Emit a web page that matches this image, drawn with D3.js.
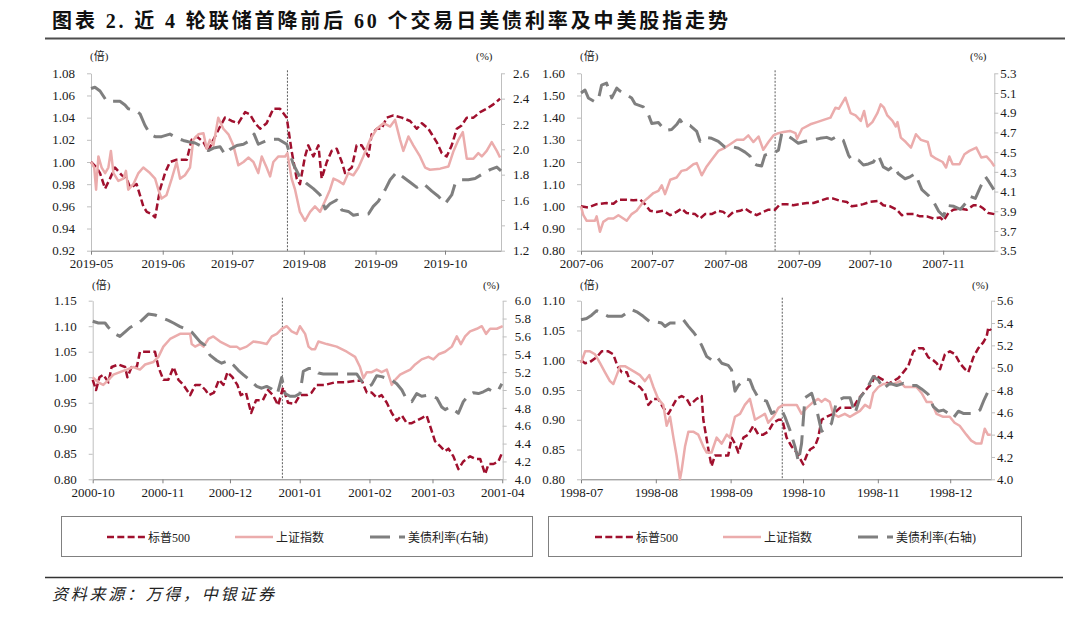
<!DOCTYPE html>
<html><head><meta charset="utf-8">
<script src="https://cdn.jsdelivr.net/npm/d3@7"></script>
<style>body{margin:0;background:#fff}svg{display:block}</style>
</head><body>
<svg id="c" width="1080" height="623"></svg>
<script>
// ---------- DATA (day offset from panel start, value) ----------
const title = "图表 2. 近 4 轮联储首降前后 60 个交易日美债利率及中美股指走势";
const source = "资料来源：万得，中银证券";
const seriesNames = ["标普500", "上证指数", "美债利率(右轴)"];

// Panel 1: 2019
const p1XTicks = ["2019-05","2019-06","2019-07","2019-08","2019-09","2019-10"];
const p1LeftTicks = [0.92,0.94,0.96,0.98,1.00,1.02,1.04,1.06,1.08];
const p1RightTicks = [1.2,1.4,1.6,1.8,2.0,2.2,2.4,2.6];
const p1Spx = [[0,1.000],[2.4,0.995],[3.9,0.990],[6.1,0.976],[8.2,0.985],[10.4,0.995],[13.3,0.988],[15.4,0.985],[16.9,0.977],[19.7,0.980],[21.2,0.970],[22.6,0.960],[24.1,0.955],[26.2,0.953],[27.7,0.950],[29.8,0.975],[32.0,0.990],[34.1,1.000],[37.0,1.002],[41.4,1.002],[43.5,1.020],[45.7,1.023],[48.6,1.018],[50.7,1.010],[52.9,1.020],[55.8,1.032],[57.9,1.040],[60.8,1.037],[63.7,1.035],[66.6,1.045],[68.7,1.043],[70.9,1.035],[73.1,1.030],[75.9,1.035],[78.8,1.048],[81.7,1.048],[84.6,1.040],[86.7,1.010],[88.9,0.985],[90.3,0.980],[92.5,1.005],[93.9,1.015],[96.1,1.005],[98.3,1.015],[99.7,0.985],[101.9,1.000],[104.0,1.010],[106.2,1.012],[108.4,1.000],[109.8,0.990],[112.7,0.995],[114.8,1.015],[117.0,1.015],[119.9,1.005],[121.3,1.025],[123.5,1.030],[125.6,1.030],[127.8,1.040],[130.7,1.042],[134.3,1.040],[137.9,1.037],[140.8,1.030],[143.0,1.035],[145.8,1.030],[147.3,1.025],[149.4,1.018],[151.6,1.008],[153.7,1.005],[155.9,1.015],[158.1,1.030],[160.2,1.033],[162.4,1.040],[165.3,1.040],[168.2,1.045],[171.0,1.048],[173.9,1.052],[176.8,1.057]];
const p1Sh = [[0,1.000],[1.4,0.995],[2.2,0.975],[3.2,1.005],[4.6,0.995],[6.1,0.990],[7.5,0.995],[8.6,1.010],[9.7,0.990],[11.8,0.983],[14.0,0.985],[15.1,0.992],[16.1,0.975],[18.3,0.980],[20.5,0.990],[22.6,0.995],[25.5,0.990],[27.7,0.985],[29.1,0.975],[30.5,0.967],[32.6,0.970],[34.9,0.985],[37.0,1.000],[38.5,0.985],[40.6,0.988],[42.8,0.995],[44.2,1.020],[46.4,1.025],[48.6,1.026],[50.0,1.012],[51.4,1.020],[52.9,1.015],[55.0,1.040],[57.2,1.030],[59.4,1.025],[61.5,1.015],[63.7,0.997],[65.9,1.000],[68.0,1.004],[70.2,1.000],[72.3,0.990],[73.8,1.005],[75.9,0.995],[77.4,0.987],[78.8,1.000],[81.0,1.005],[83.9,1.005],[84.9,1.008],[86.7,0.985],[88.2,0.975],[90.3,0.955],[92.5,0.947],[94.7,0.955],[96.8,0.960],[99.0,0.955],[101.2,0.965],[103.3,0.975],[104.8,0.985],[106.9,0.983],[109.1,0.980],[111.2,0.990],[113.4,0.988],[115.6,0.995],[117.7,1.005],[120.6,1.020],[123.5,1.030],[126.4,1.035],[129.3,1.032],[131.4,1.038],[133.6,1.020],[135.0,1.010],[137.2,1.023],[139.3,1.015],[142.2,1.005],[144.4,0.995],[146.5,0.993],[150.9,0.994],[154.5,0.996],[156.7,1.010],[158.8,1.020],[160.7,1.027],[162.4,1.003],[165.3,1.003],[167.4,1.008],[168.9,1.005],[171.0,1.010],[173.2,1.018],[175.4,1.010],[176.8,1.004]];
const p1Ust = [[0,2.48],[1.7,2.49],[3.9,2.46],[6.8,2.38],[9.7,2.38],[12.5,2.38],[14.7,2.35],[16.1,2.32],[19.0,2.31],[21.2,2.28],[23.3,2.19],[25.5,2.12],[27.7,2.10],[30.5,2.10],[34.1,2.12],[37.0,2.09],[39.9,2.07],[42.1,2.06],[45.0,2.05],[47.1,2.03],[50.7,1.99],[52.9,2.01],[55.8,2.02],[57.9,1.96],[60.1,2.00],[63.0,2.03],[65.9,2.04],[68.7,2.07],[70.5,2.12],[72.3,2.04],[75.9,2.07],[78.8,2.08],[81.0,2.08],[84.6,2.04],[87.5,1.88],[90.3,1.78],[93.2,1.73],[96.1,1.69],[99.0,1.64],[101.2,1.53],[103.3,1.57],[106.2,1.60],[108.4,1.52],[111.2,1.51],[113.4,1.48],[116.3,1.49],[119.9,1.49],[122.0,1.55],[124.2,1.59],[127.1,1.68],[129.3,1.76],[132.1,1.82],[135.0,1.78],[137.9,1.74],[140.8,1.70],[143.7,1.73],[147.3,1.67],[150.1,1.63],[153.0,1.57],[155.9,1.64],[157.4,1.73],[160.2,1.76],[163.1,1.76],[166.0,1.77],[169.6,1.81],[172.5,1.84],[175.4,1.86],[177.2,1.83]];

// Panel 2: 2007
const p2XTicks = ["2007-06","2007-07","2007-08","2007-09","2007-10","2007-11"];
const p2LeftTicks = [0.80,0.90,1.00,1.10,1.20,1.30,1.40,1.50,1.60];
const p2RightTicks = [3.5,3.7,3.9,4.1,4.3,4.5,4.7,4.9,5.1,5.3];
const p2Spx = [[0,1.000],[3.1,0.995],[6.6,1.010],[10.8,1.015],[13.7,1.012],[15.8,1.030],[19.3,1.030],[22.1,1.028],[25.0,1.030],[27.0,1.010],[29.2,0.980],[32.0,0.975],[34.8,0.980],[37.7,0.960],[40.4,0.975],[42.5,0.990],[44.6,0.970],[48.2,0.965],[50.3,0.945],[52.4,0.965],[55.2,0.965],[58.0,0.980],[60.1,0.975],[62.3,0.955],[64.4,0.975],[67.2,0.980],[69.3,0.990],[71.4,0.975],[74.2,0.960],[77.0,0.975],[79.2,0.985],[82.0,0.985],[84.1,1.010],[86.9,1.010],[89.7,1.005],[92.5,1.010],[95.4,1.015],[98.2,1.015],[101.0,1.025],[103.8,1.035],[106.6,1.035],[109.4,1.025],[112.3,1.020],[114.4,1.000],[117.2,1.005],[119.3,1.010],[122.1,1.020],[125.6,1.025],[127.7,1.005],[130.6,1.000],[133.4,0.985],[135.5,0.960],[137.6,0.965],[140.5,0.965],[143.2,0.955],[146.1,0.955],[148.9,0.945],[151.7,0.950],[153.1,0.935],[155.2,0.970],[157.3,0.985],[160.1,0.990],[163.0,0.985],[165.8,1.005],[167.9,1.005],[170.0,0.990],[172.1,0.970],[174.6,0.965]];
const p2Sh = [[0,1.000],[1.0,0.960],[2.4,0.935],[5.9,0.935],[6.6,0.955],[8.0,0.885],[9.4,0.930],[11.5,0.945],[13.7,0.945],[15.8,0.960],[17.9,0.945],[19.3,0.935],[21.4,0.965],[23.5,0.980],[26.3,1.020],[28.5,1.040],[30.6,1.060],[32.7,1.070],[34.1,1.095],[35.5,1.055],[37.7,1.120],[40.4,1.130],[42.5,1.160],[44.6,1.165],[47.5,1.190],[48.9,1.195],[51.0,1.140],[53.1,1.180],[55.2,1.210],[58.0,1.250],[60.1,1.260],[63.0,1.280],[65.8,1.300],[68.6,1.300],[70.7,1.320],[72.8,1.290],[75.0,1.315],[77.0,1.255],[79.2,1.290],[81.3,1.320],[83.4,1.330],[85.5,1.335],[88.3,1.340],[90.6,1.330],[91.3,1.305],[93.4,1.350],[96.9,1.370],[99.7,1.380],[102.5,1.390],[105.4,1.400],[107.5,1.445],[108.9,1.440],[111.7,1.490],[113.9,1.420],[116.0,1.410],[118.2,1.385],[119.6,1.430],[121.0,1.360],[123.1,1.380],[125.2,1.420],[126.6,1.460],[128.0,1.445],[129.4,1.410],[131.6,1.385],[133.0,1.360],[133.7,1.380],[135.1,1.310],[137.2,1.290],[139.4,1.265],[141.5,1.325],[143.6,1.300],[146.5,1.290],[147.9,1.230],[150.0,1.215],[152.8,1.200],[154.2,1.175],[155.6,1.225],[157.0,1.190],[159.9,1.190],[162.0,1.235],[164.1,1.250],[167.0,1.265],[169.1,1.220],[171.3,1.225],[173.4,1.200],[174.6,1.180]];
const p2Ust = [[0,5.10],[1.7,5.13],[3.1,5.05],[5.9,5.01],[7.3,5.03],[8.7,5.18],[10.8,5.20],[13.0,5.05],[15.1,5.15],[16.5,5.12],[19.3,5.08],[21.4,5.05],[22.8,4.99],[26.3,4.96],[28.5,4.88],[29.9,4.79],[32.7,4.80],[35.5,4.72],[38.3,4.73],[40.4,4.78],[41.8,4.83],[43.2,4.78],[46.1,4.77],[48.9,4.71],[50.3,4.61],[52.4,4.65],[55.2,4.64],[58.0,4.61],[60.8,4.55],[63.0,4.56],[66.5,4.54],[69.3,4.50],[71.4,4.46],[72.1,4.40],[74.2,4.37],[76.3,4.36],[77.7,4.47],[79.2,4.48],[82.0,4.50],[83.4,4.52],[84.8,4.69],[86.9,4.67],[89.0,4.64],[91.8,4.59],[94.6,4.61],[97.5,4.62],[101.0,4.64],[103.8,4.65],[105.9,4.63],[108.0,4.66],[110.8,4.62],[113.0,4.47],[114.4,4.42],[117.2,4.42],[119.3,4.37],[121.4,4.38],[123.5,4.40],[125.6,4.47],[127.7,4.35],[129.9,4.32],[132.0,4.36],[134.1,4.28],[136.9,4.23],[139.0,4.25],[141.2,4.28],[144.0,4.12],[146.8,4.06],[148.9,4.00],[151.1,3.90],[153.2,3.85],[154.6,3.96],[157.5,3.95],[160.3,3.92],[163.1,4.00],[164.5,4.05],[166.6,4.03],[168.8,4.15],[170.9,4.25],[172.3,4.20],[174.4,4.12]];

// Panel 3: 2000-2001
const p3XTicks = ["2000-10","2000-11","2000-12","2001-01","2001-02","2001-03","2001-04"];
const p3LeftTicks = [0.80,0.85,0.90,0.95,1.00,1.05,1.10,1.15];
const p3RightTicks = [4.0,4.2,4.4,4.6,4.8,5.0,5.2,5.4,5.6,5.8,6.0];
const p3Spx = [[0,0.995],[1.5,0.975],[3.0,1.000],[4.7,1.005],[7.0,0.990],[8.4,1.020],[11.4,1.025],[14.4,1.020],[15.4,1.000],[17.3,1.020],[19.6,1.020],[21.0,1.050],[24.0,1.050],[27.7,1.050],[29.2,1.020],[31.4,0.995],[33.6,0.995],[35.9,1.020],[38.1,0.995],[40.3,0.985],[43.3,0.965],[45.6,0.985],[47.9,0.985],[50.1,0.975],[51.6,0.965],[53.9,0.970],[56.1,0.995],[58.1,0.985],[59.9,1.010],[62.1,1.000],[64.3,0.985],[65.8,0.965],[68.1,0.970],[70.4,0.930],[72.6,0.955],[75.6,0.955],[77.9,0.975],[80.1,0.965],[82.4,0.945],[84.6,0.980],[86.8,0.950],[89.8,0.948],[92.1,0.965],[95.1,0.965],[97.3,0.970],[99.6,0.985],[103.3,0.985],[107.7,0.990],[112.1,0.990],[116.6,0.993],[119.6,0.993],[121.8,0.970],[124.0,0.970],[126.2,0.960],[128.4,0.965],[130.7,0.950],[132.9,0.930],[135.1,0.915],[137.4,0.925],[139.6,0.910],[141.8,0.910],[144.0,0.915],[146.2,0.920],[148.4,0.925],[149.9,0.905],[152.1,0.875],[154.4,0.865],[156.6,0.855],[158.1,0.860],[160.3,0.845],[162.5,0.820],[164.7,0.835],[167.7,0.845],[170.0,0.840],[172.2,0.840],[174.4,0.810],[175.9,0.830],[178.1,0.830],[180.3,0.835],[182.2,0.855]];
const p3Sh = [[0,1.000],[2.5,0.990],[4.7,0.985],[7.0,0.995],[9.2,1.005],[12.1,1.010],[15.1,1.015],[18.1,1.020],[21.0,1.015],[23.3,1.025],[27.0,1.030],[29.2,1.040],[31.4,1.060],[34.4,1.075],[36.6,1.080],[38.8,1.085],[41.0,1.085],[43.3,1.085],[44.0,1.065],[45.5,1.060],[47.7,1.065],[49.2,1.060],[51.4,1.075],[53.6,1.080],[56.6,1.070],[58.8,1.065],[61.0,1.060],[64.0,1.060],[65.5,1.055],[68.4,1.060],[71.4,1.070],[74.4,1.068],[77.3,1.065],[79.6,1.080],[81.8,1.085],[84.0,1.095],[86.2,1.100],[88.4,1.090],[90.7,1.085],[92.1,1.100],[94.4,1.085],[95.9,1.060],[97.3,1.055],[98.8,1.055],[100.3,1.070],[104.0,1.065],[108.4,1.060],[112.9,1.050],[116.6,1.040],[118.8,1.020],[120.3,0.998],[121.8,1.010],[124.0,1.010],[126.2,1.015],[128.4,1.010],[130.7,1.015],[132.9,0.985],[134.4,0.995],[136.6,1.005],[138.8,1.010],[141.1,1.015],[143.3,1.025],[146.2,1.035],[149.2,1.040],[151.4,1.035],[153.7,1.045],[156.6,1.050],[159.6,1.060],[161.8,1.080],[163.6,1.065],[165.5,1.080],[167.7,1.090],[170.7,1.095],[172.9,1.100],[174.8,1.085],[176.6,1.095],[179.6,1.095],[182.2,1.100]];
const p3Ust = [[0,5.77],[2.5,5.75],[5.5,5.75],[7.0,5.70],[9.9,5.63],[12.1,5.60],[14.4,5.65],[16.6,5.70],[20.3,5.75],[21.8,5.78],[24.7,5.85],[27.7,5.84],[30.7,5.81],[33.6,5.78],[35.9,5.75],[38.8,5.71],[41.8,5.68],[44.0,5.65],[47.7,5.54],[49.9,5.50],[52.1,5.39],[55.1,5.33],[57.3,5.30],[60.3,5.33],[62.5,5.28],[64.7,5.22],[67.0,5.17],[69.9,5.11],[72.9,5.04],[75.1,5.02],[77.3,5.04],[79.6,5.01],[82.1,4.96],[84.0,5.14],[85.5,4.96],[87.7,4.93],[89.9,4.93],[92.1,4.96],[93.6,5.21],[95.9,5.24],[98.1,5.24],[100.3,5.19],[102.5,5.18],[106.2,5.18],[110.0,5.18],[113.6,5.18],[117.3,5.18],[120.3,5.07],[122.5,5.04],[124.0,5.06],[126.2,5.16],[128.4,5.15],[130.7,5.13],[132.9,5.11],[135.1,5.07],[137.4,5.00],[139.6,4.89],[141.8,4.87],[144.0,4.96],[146.2,4.93],[148.4,4.94],[150.7,4.93],[152.9,4.91],[155.1,4.81],[156.6,4.78],[158.8,4.81],[161.0,4.77],[162.5,4.74],[164.7,4.87],[167.0,4.94],[169.2,4.97],[171.4,4.96],[173.6,4.98],[175.9,5.01],[178.1,4.98],[180.3,5.00],[181.8,5.07]];

// Panel 4: 1998
const p4XTicks = ["1998-07","1998-08","1998-09","1998-10","1998-11","1998-12"];
const p4LeftTicks = [0.80,0.85,0.90,0.95,1.00,1.05,1.10];
const p4RightTicks = [4.0,4.2,4.4,4.6,4.8,5.0,5.2,5.4,5.6];
const p4Spx = [[0,1.000],[1.7,0.995],[3.7,0.997],[6.5,1.005],[8.6,1.015],[11.3,1.015],[13.4,1.010],[15.1,0.990],[16.9,0.980],[19.0,0.980],[20.3,0.965],[22.4,0.960],[24.4,0.955],[26.5,0.945],[27.9,0.925],[30.0,0.935],[32.0,0.935],[34.1,0.920],[36.2,0.910],[37.6,0.920],[39.6,0.935],[41.7,0.940],[43.8,0.935],[45.2,0.925],[47.9,0.935],[50.0,0.940],[50.7,0.900],[52.8,0.850],[54.1,0.822],[55.5,0.840],[56.9,0.840],[58.9,0.840],[61.0,0.840],[62.4,0.870],[63.8,0.860],[65.2,0.845],[67.3,0.870],[69.3,0.875],[71.4,0.890],[73.5,0.875],[75.5,0.875],[77.6,0.880],[79.7,0.895],[81.8,0.900],[83.4,0.900],[85.2,0.870],[87.3,0.855],[89.4,0.845],[90.7,0.835],[92.1,0.825],[93.5,0.840],[94.9,0.850],[96.9,0.855],[98.3,0.870],[99.7,0.900],[101.8,0.905],[104.6,0.910],[107.3,0.920],[110.1,0.920],[112.8,0.920],[114.9,0.935],[117.0,0.945],[119.1,0.955],[120.4,0.960],[121.8,0.975],[123.9,0.970],[126.0,0.965],[127.3,0.960],[129.4,0.965],[131.5,0.970],[133.6,0.980],[135.6,0.990],[137.7,1.015],[139.8,1.020],[141.8,1.020],[143.9,1.005],[146.0,1.000],[147.4,0.995],[148.8,0.985],[150.8,1.010],[152.9,1.015],[155.0,1.010],[157.0,0.995],[159.1,0.985],[160.5,0.980],[162.6,1.005],[164.6,1.020],[166.7,1.030],[168.1,1.040],[168.8,1.055],[169.9,1.050]];
const p4Sh = [[0,0.995],[1.7,1.015],[3.7,1.015],[5.8,1.010],[7.9,0.995],[9.9,0.980],[12.0,0.965],[13.4,0.960],[14.8,0.975],[16.2,0.990],[18.2,0.990],[20.3,0.985],[22.4,0.980],[24.4,0.975],[26.5,0.965],[28.3,0.975],[30.0,0.955],[32.0,0.935],[34.1,0.925],[35.5,0.890],[36.9,0.905],[38.3,0.870],[39.6,0.840],[41.0,0.800],[41.7,0.815],[43.1,0.855],[44.5,0.880],[46.5,0.880],[48.6,0.875],[50.7,0.855],[52.1,0.845],[54.1,0.845],[56.2,0.870],[58.3,0.860],[60.4,0.875],[61.7,0.870],[63.8,0.905],[65.9,0.910],[67.9,0.925],[70.0,0.935],[72.1,0.900],[74.2,0.905],[76.2,0.910],[77.6,0.895],[79.7,0.905],[81.8,0.920],[83.8,0.925],[86.6,0.925],[89.4,0.925],[91.4,0.910],[93.5,0.920],[96.3,0.930],[98.3,0.935],[99.7,0.930],[101.1,0.935],[103.1,0.930],[104.5,0.910],[106.6,0.905],[109.3,0.910],[111.5,0.905],[113.5,0.910],[115.6,0.915],[117.7,0.925],[119.7,0.920],[121.1,0.945],[123.2,0.955],[125.3,0.960],[127.3,0.960],[129.4,0.960],[132.1,0.965],[134.2,0.955],[136.3,0.955],[139.0,0.955],[141.1,0.945],[143.2,0.930],[145.2,0.930],[147.3,0.910],[150.1,0.905],[152.8,0.905],[154.8,0.895],[156.9,0.890],[159.7,0.875],[161.7,0.865],[163.8,0.860],[165.9,0.860],[167.3,0.885],[168.6,0.875],[169.8,0.875]];
const p4Ust = [[0,5.43],[2.3,5.44],[4.4,5.47],[6.5,5.51],[8.6,5.49],[11.3,5.46],[14.1,5.46],[16.9,5.46],[18.9,5.49],[21.0,5.52],[23.1,5.50],[25.8,5.46],[28.6,5.41],[31.4,5.41],[33.4,5.40],[34.8,5.37],[36.9,5.40],[39.6,5.40],[42.4,5.43],[44.5,5.37],[46.5,5.32],[48.6,5.26],[50.0,5.20],[52.1,5.10],[54.1,5.07],[56.2,5.10],[58.3,5.04],[61.0,5.02],[62.4,4.98],[63.8,4.79],[65.2,4.84],[67.9,4.90],[70.0,4.89],[71.4,4.81],[73.5,4.73],[75.5,4.71],[76.9,4.70],[79.0,4.59],[81.1,4.62],[83.4,4.61],[84.5,4.56],[86.6,4.44],[88.7,4.29],[90.1,4.16],[91.4,4.32],[92.8,4.73],[95.6,4.77],[97.7,4.62],[99.7,4.43],[101.8,4.46],[103.8,4.50],[105.9,4.70],[108.7,4.73],[111.5,4.73],[113.5,4.59],[115.6,4.73],[118.4,4.81],[121.1,4.92],[123.2,4.89],[125.3,4.81],[128.0,4.86],[130.8,4.84],[133.6,4.86],[136.3,4.84],[139.0,4.84],[141.1,4.81],[143.9,4.76],[146.0,4.65],[148.1,4.61],[150.1,4.62],[152.2,4.59],[154.3,4.55],[156.4,4.61],[158.4,4.59],[160.5,4.59],[163.3,4.59],[165.3,4.62],[167.0,4.71],[169.2,4.81]];

// ---------- LAYOUT ----------
const panels = [
  {start:"2019-05-01", endDay:177.2, cutDay:84.9, xTicks:p1XTicks, lDom:[0.92,1.08], lTicks:p1LeftTicks, lFmt:".2f", rDom:[1.2,2.6], rTicks:p1RightTicks,
   spx:p1Spx, sh:p1Sh, ust:p1Ust, x0:91, x1:501, y0:73.3, y1:250.7, rPad:8, unitY:56, unitLX:90, unitRX:476},
  {start:"2007-06-01", endDay:174.6, cutDay:82.0, xTicks:p2XTicks, lDom:[0.8,1.6], lTicks:p2LeftTicks, lFmt:".2f", rDom:[3.5,5.3], rTicks:p2RightTicks,
   spx:p2Spx, sh:p2Sh, ust:p2Ust, x0:581, x1:994.3, y0:73.3, y1:250.7, rPad:2, unitY:56, unitLX:580, unitRX:970},
  {start:"2000-10-01", endDay:182.2, cutDay:84.3, xTicks:p3XTicks, lDom:[0.8,1.15], lTicks:p3LeftTicks, lFmt:".2f", rDom:[4.0,6.0], rTicks:p3RightTicks,
   spx:p3Spx, sh:p3Sh, ust:p3Ust, x0:92.7, x1:502.7, y0:300.7, y1:479.3, rPad:8, unitY:285, unitLX:92, unitRX:483},
  {start:"1998-07-01", endDay:169.9, cutDay:83.4, xTicks:p4XTicks, lDom:[0.8,1.1], lTicks:p4LeftTicks, lFmt:".2f", rDom:[4.0,5.6], rTicks:p4RightTicks,
   spx:p4Spx, sh:p4Sh, ust:p4Ust, x0:581, x1:991, y0:300.7, y1:479.3, rPad:2, unitY:285, unitLX:580, unitRX:972}
];
const colors = {spx:"#a0102e", sh:"#ebacac", ust:"#7f7f7f"};
const numFont = "'Liberation Serif','Times New Roman',serif";
const cjkFont = "'Liberation Serif','Noto Sans CJK SC',serif";

const svg = d3.select("#c");
svg.append("rect").attr("width",1080).attr("height",623).attr("fill","#fff");

// Title
svg.append("text").attr("x",52).attr("y",28).text(title)
  .attr("font-family",cjkFont).attr("font-weight",700).attr("font-size",20).attr("fill","#111")
  .attr("textLength",676).attr("lengthAdjust","spacing");
svg.append("line").attr("x1",45).attr("x2",1065).attr("y1",38.5).attr("y2",38.5).attr("stroke","#4d4d4d").attr("stroke-width",2);

const parseM = d3.utcParse("%Y-%m");
const parseD = d3.utcParse("%Y-%m-%d");
const fmtM = d3.utcFormat("%Y-%m");

panels.forEach(p => {
  const s = parseD(p.start);
  const toDate = d => new Date(s.getTime() + d*864e5);
  const x = d3.scaleUtc().domain([s, toDate(p.endDay)]).range([p.x0, p.x1]);
  const yl = d3.scaleLinear().domain(p.lDom).range([p.y1, p.y0]);
  const yr = d3.scaleLinear().domain(p.rDom).range([p.y1, p.y0]);
  const g = svg.append("g");

  // axes
  const ax = g.append("g").attr("transform",`translate(0,${p.y1})`)
    .call(d3.axisBottom(x).tickValues(p.xTicks.map(parseM)).tickFormat(fmtM).tickSize(4).tickSizeOuter(0).tickPadding(4));
  ax.select(".domain").attr("stroke","#808080");
  ax.selectAll(".tick line").attr("stroke","#808080");
  const al = g.append("g").attr("transform",`translate(${p.x0},0)`)
    .call(d3.axisLeft(yl).tickValues(p.lTicks).tickFormat(d3.format(p.lFmt)).tickSize(4).tickSizeOuter(0).tickPadding(12));
  al.select(".domain").attr("stroke","#bfbfbf");
  al.selectAll(".tick line").attr("stroke","#bfbfbf");
  const ar = g.append("g").attr("transform",`translate(${p.x1},0)`)
    .call(d3.axisRight(yr).tickValues(p.rTicks).tickFormat(d3.format(".1f")).tickSize(4).tickSizeOuter(0).tickPadding(p.rPad));
  ar.select(".domain").attr("stroke","#bfbfbf");
  ar.selectAll(".tick line").attr("stroke","#bfbfbf");
  [ax,al,ar].forEach(a => a.selectAll("text").attr("font-family",numFont).attr("font-size",13).attr("fill","#1a1a1a"));

  // units
  g.append("text").attr("x",p.unitLX).attr("y",p.unitY+4).text("(倍)")
    .attr("font-family",cjkFont).attr("font-size",11).attr("fill","#222");
  g.append("text").attr("x",p.unitRX).attr("y",p.unitY+4).text("(%)")
    .attr("font-family",numFont).attr("font-size",11).attr("fill","#222");

  // cut line
  g.append("line").attr("x1",x(toDate(p.cutDay))).attr("x2",x(toDate(p.cutDay)))
    .attr("y1",p.y0-3).attr("y2",p.y1).attr("stroke","#333").attr("stroke-width",0.8).attr("stroke-dasharray","2,1.5");

  const lineL = d3.line().x(d=>x(toDate(d[0]))).y(d=>yl(d[1]));
  const lineR = d3.line().x(d=>x(toDate(d[0]))).y(d=>yr(d[1]));
  g.append("path").attr("d",lineL(p.spx)).attr("fill","none").attr("stroke",colors.spx)
    .attr("stroke-width",2.5).attr("stroke-dasharray","7,3.3").attr("stroke-linejoin","round");
  g.append("path").attr("d",lineL(p.sh)).attr("fill","none").attr("stroke",colors.sh)
    .attr("stroke-width",2.5).attr("stroke-linejoin","round");
  g.append("path").attr("d",lineR(p.ust)).attr("fill","none").attr("stroke",colors.ust)
    .attr("stroke-width",3).attr("stroke-dasharray","20,9").attr("stroke-linejoin","round");
});

// Legends
const legendBoxes = [
  {bx:61, bw:471, items:[107,235,370]},
  {bx:548, bw:473, items:[595,723,858]}
];
legendBoxes.forEach(b => {
  svg.append("rect").attr("x",b.bx+0.5).attr("y",516.5).attr("width",b.bw).attr("height",40)
    .attr("fill","none").attr("stroke","#808080").attr("stroke-width",1);
  const ly = 537;
  const keys = ["spx","sh","ust"];
  keys.forEach((k,i) => {
    const lx = b.items[i];
    const len = k === "ust" ? 35 : 38;
    const ln = svg.append("line").attr("x1",lx).attr("x2",lx+len).attr("y1",ly).attr("y2",ly).attr("stroke",colors[k]);
    if (k==="spx") ln.attr("stroke-width",2.5).attr("stroke-dasharray","7,3.3");
    else if (k==="sh") ln.attr("stroke-width",2.5);
    else ln.attr("stroke-width",3).attr("stroke-dasharray","20,9");
    svg.append("text").attr("x",lx+len+3).attr("y",ly+4.5).text(seriesNames[i])
      .attr("font-family",cjkFont).attr("font-size",12).attr("fill","#222");
  });
});

// Footer
svg.append("line").attr("x1",45).attr("x2",1063).attr("y1",577.5).attr("y2",577.5).attr("stroke","#333").attr("stroke-width",1.5);
svg.append("text").attr("x",52).attr("y",600).text(source)
  .attr("font-family",cjkFont).attr("font-style","italic").attr("font-size",16).attr("fill","#222")
  .attr("textLength",222).attr("lengthAdjust","spacing");
</script>
</body></html>
